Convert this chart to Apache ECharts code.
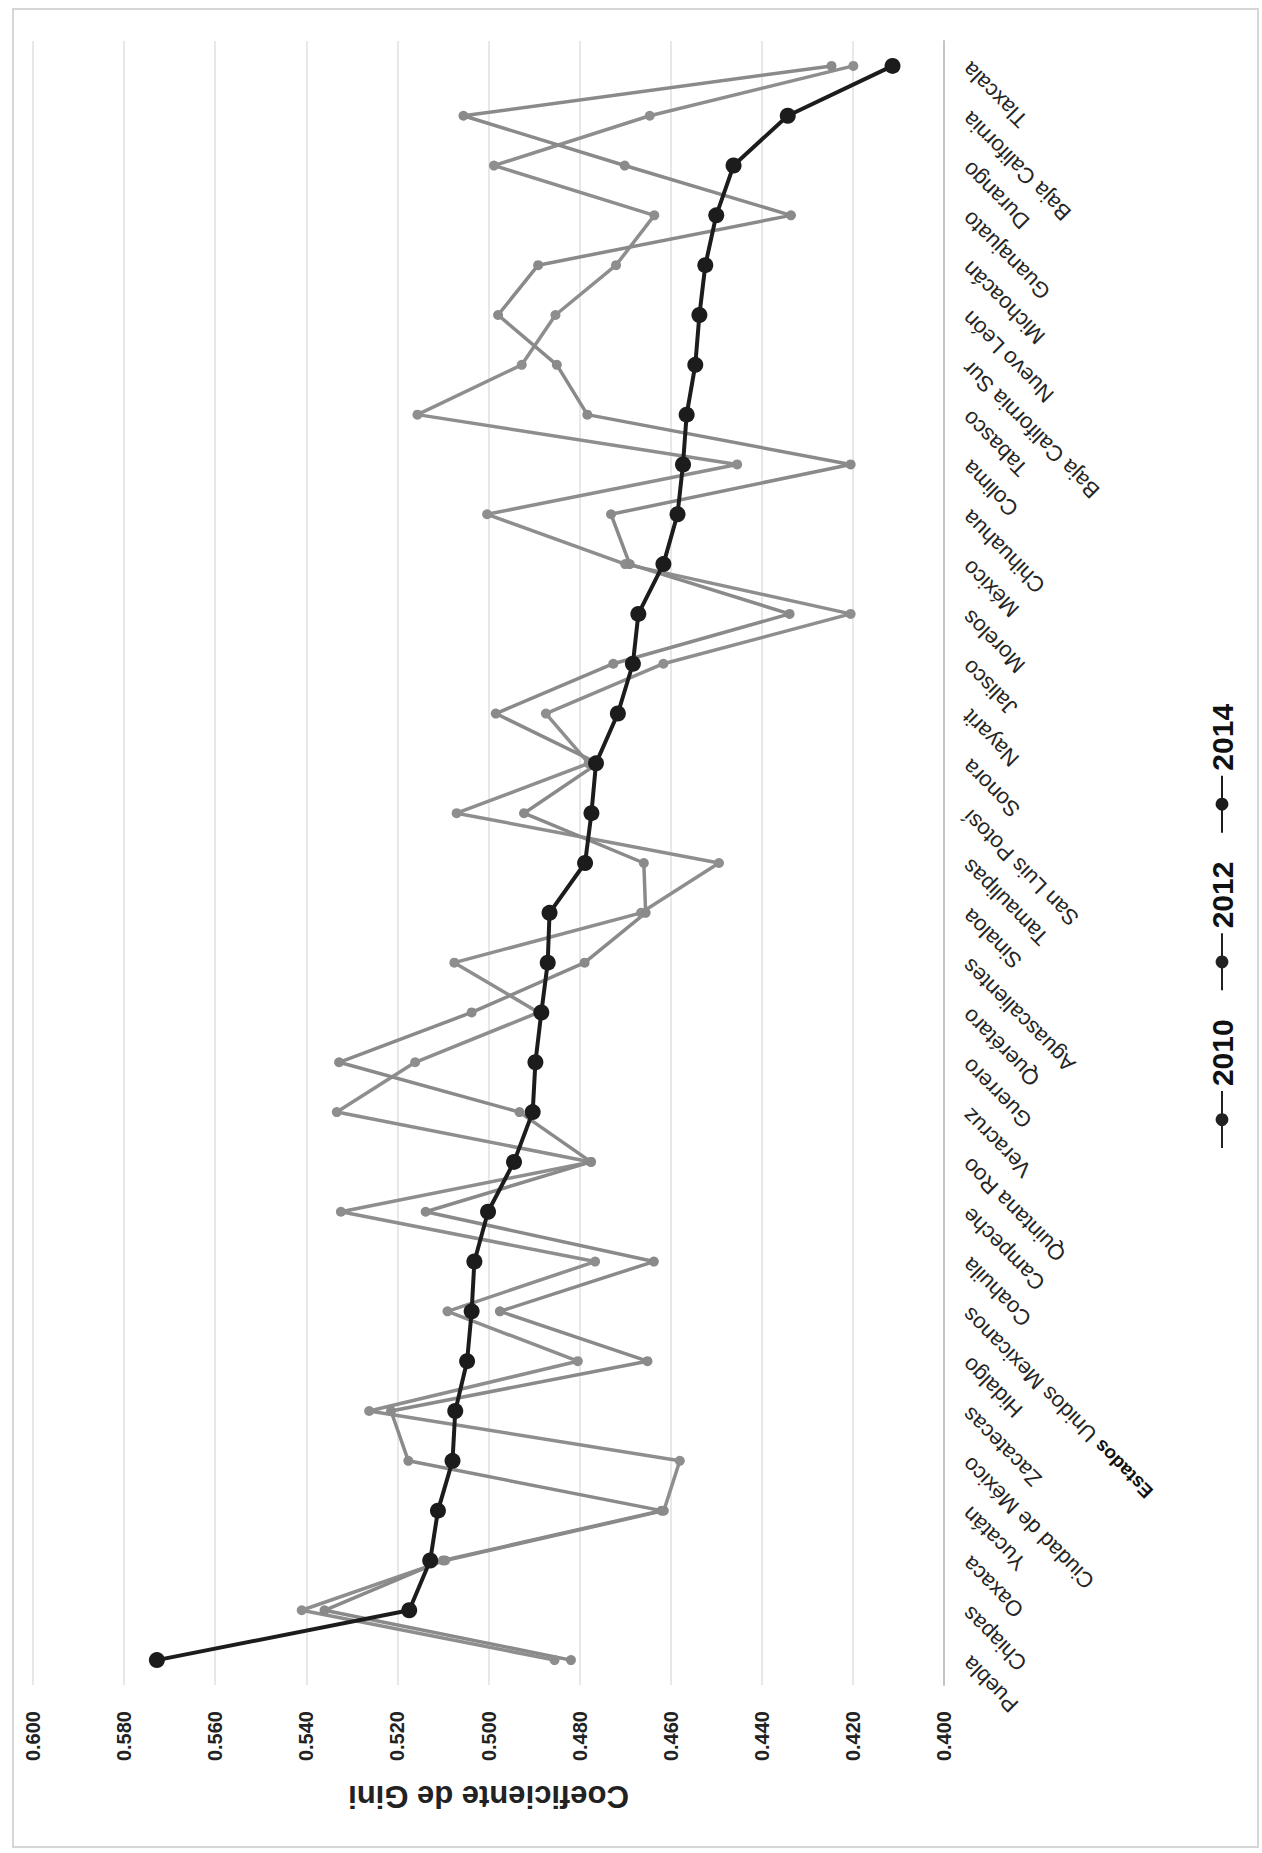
<!DOCTYPE html>
<html>
<head>
<meta charset="utf-8">
<script src="https://cdn.jsdelivr.net/npm/echarts@6/dist/echarts.min.js"></script>
<style>
html,body{margin:0;padding:0;background:#fff;overflow:hidden;width:1262px;height:1853px;}
#chart{position:absolute;left:0;top:0;width:1853px;height:1262px;transform-origin:0 0;transform:translateY(1853px) rotate(-90deg);}
</style>
</head>
<body>
<div id="chart"></div>
<script>
const categories = ['Puebla','Chiapas','Oaxaca','Yucatán','Ciudad de México','Zacatecas','Hidalgo',
  'Estados Unidos Mexicanos','Coahuila','Campeche','Quintana Roo','Veracruz','Guerrero','Querétaro',
  'Aguascalientes','Sinaloa','Tamaulipas','San Luis Potosí','Sonora','Nayarit','Jalisco','Morelos',
  'México','Chihuahua','Colima','Tabasco','Baja California Sur','Nuevo León','Michoacán','Guanajuato',
  'Durango','Baja California','Tlaxcala'];

const gini2010 = [0.4855,0.541,0.5095,0.4615,0.4580,0.5262,0.4804,0.5090,0.4766,0.5324,0.4775,0.5333,
  0.5161,0.4890,0.5075,0.4665,0.4494,0.5070,0.4780,0.4874,0.4616,0.4205,0.4700,0.5003,0.4454,0.5156,
  0.4927,0.4853,0.4720,0.4636,0.4988,0.4646,0.4199];

const gini2012 = [0.4819,0.536,0.5100,0.4620,0.5176,0.5214,0.4651,0.4975,0.4637,0.5138,0.4775,0.4932,
  0.5328,0.5037,0.4789,0.4655,0.4659,0.4922,0.4760,0.4984,0.4726,0.4339,0.4690,0.4731,0.4205,0.4783,
  0.4850,0.4979,0.4891,0.4336,0.4701,0.5055,0.4247];

const gini2014 = [0.5728,0.5174,0.5128,0.5111,0.5079,0.5073,0.5047,0.5037,0.5031,0.5001,0.4944,0.4903,
  0.4897,0.4884,0.4870,0.4866,0.4788,0.4774,0.4764,0.4716,0.4683,0.4671,0.4616,0.4585,0.4573,0.4565,
  0.4546,0.4537,0.4524,0.4500,0.4462,0.4343,0.4113];

const seriesNames = ['2010','2012','2014'];
const axisMin = 0.40, axisMax = 0.60, axisStep = 0.02;
const axisTitle = 'Coeficiente de Gini';

const FONT = "'Liberation Sans', Arial, sans-serif";
const chart = echarts.init(document.getElementById('chart'), null, {renderer:'svg', width:1853, height:1262});

chart.setOption({
  animation:false,
  backgroundColor:'#ffffff',
  graphic:[{type:'rect', silent:true, shape:{x:6,y:13,width:1838,height:1245},
    style:{fill:'none', stroke:'#d6d6d6', lineWidth:2}}],
  grid:{left:168, right:41, top:33, bottom:318, containLabel:false},
  legend:{
    bottom:20, left:'center', itemWidth:57, itemHeight:16, itemGap:28,
    textStyle:{fontSize:30, fontWeight:'bold', color:'#111', fontFamily:FONT},
    data:[
      {name:seriesNames[0], itemStyle:{color:'#222'}, lineStyle:{color:'#222'}},
      {name:seriesNames[1], itemStyle:{color:'#222'}, lineStyle:{color:'#222'}},
      {name:seriesNames[2], itemStyle:{color:'#1c1c1c'}, lineStyle:{color:'#1c1c1c'}}
    ]
  },
  xAxis:{
    type:'category', data:categories, boundaryGap:true,
    axisLine:{lineStyle:{color:'#c4c4c4', width:2}},
    axisTick:{show:false},
    axisLabel:{
      rotate:45, interval:0, margin:22, fontSize:22, color:'#252525', fontFamily:FONT,
      formatter:function(v){
        if(v.indexOf('Estados ')===0){ return '{b|Estados}' + v.substring(7); }
        return v;
      },
      rich:{b:{fontWeight:'bold', fontSize:19, color:'#111', fontFamily:FONT}}
    }
  },
  yAxis:{
    type:'value', min:axisMin, max:axisMax, interval:axisStep,
    axisLine:{show:false}, axisTick:{show:false},
    axisLabel:{formatter:function(v){return v.toFixed(3);}, fontSize:20, fontWeight:'bold', color:'#222', margin:26, fontFamily:FONT},
    splitLine:{lineStyle:{color:'#e0e0e0', width:1.5}},
    name:axisTitle, nameLocation:'middle', nameGap:96, nameRotate:90,
    nameTextStyle:{fontSize:31, fontWeight:'bold', color:'#222', fontFamily:FONT}
  },
  series:[
    {name:seriesNames[0], type:'line', data:gini2010, symbol:'circle', symbolSize:10, z:2,
      lineStyle:{color:'#8e8e8e', width:3.5}, itemStyle:{color:'#8e8e8e'}},
    {name:seriesNames[1], type:'line', data:gini2012, symbol:'circle', symbolSize:10, z:2,
      lineStyle:{color:'#8a8a8a', width:3.5}, itemStyle:{color:'#8a8a8a'}},
    {name:seriesNames[2], type:'line', data:gini2014, symbol:'circle', symbolSize:16, z:3,
      lineStyle:{color:'#1c1c1c', width:4}, itemStyle:{color:'#1c1c1c'}}
  ]
});
</script>
</body>
</html>
